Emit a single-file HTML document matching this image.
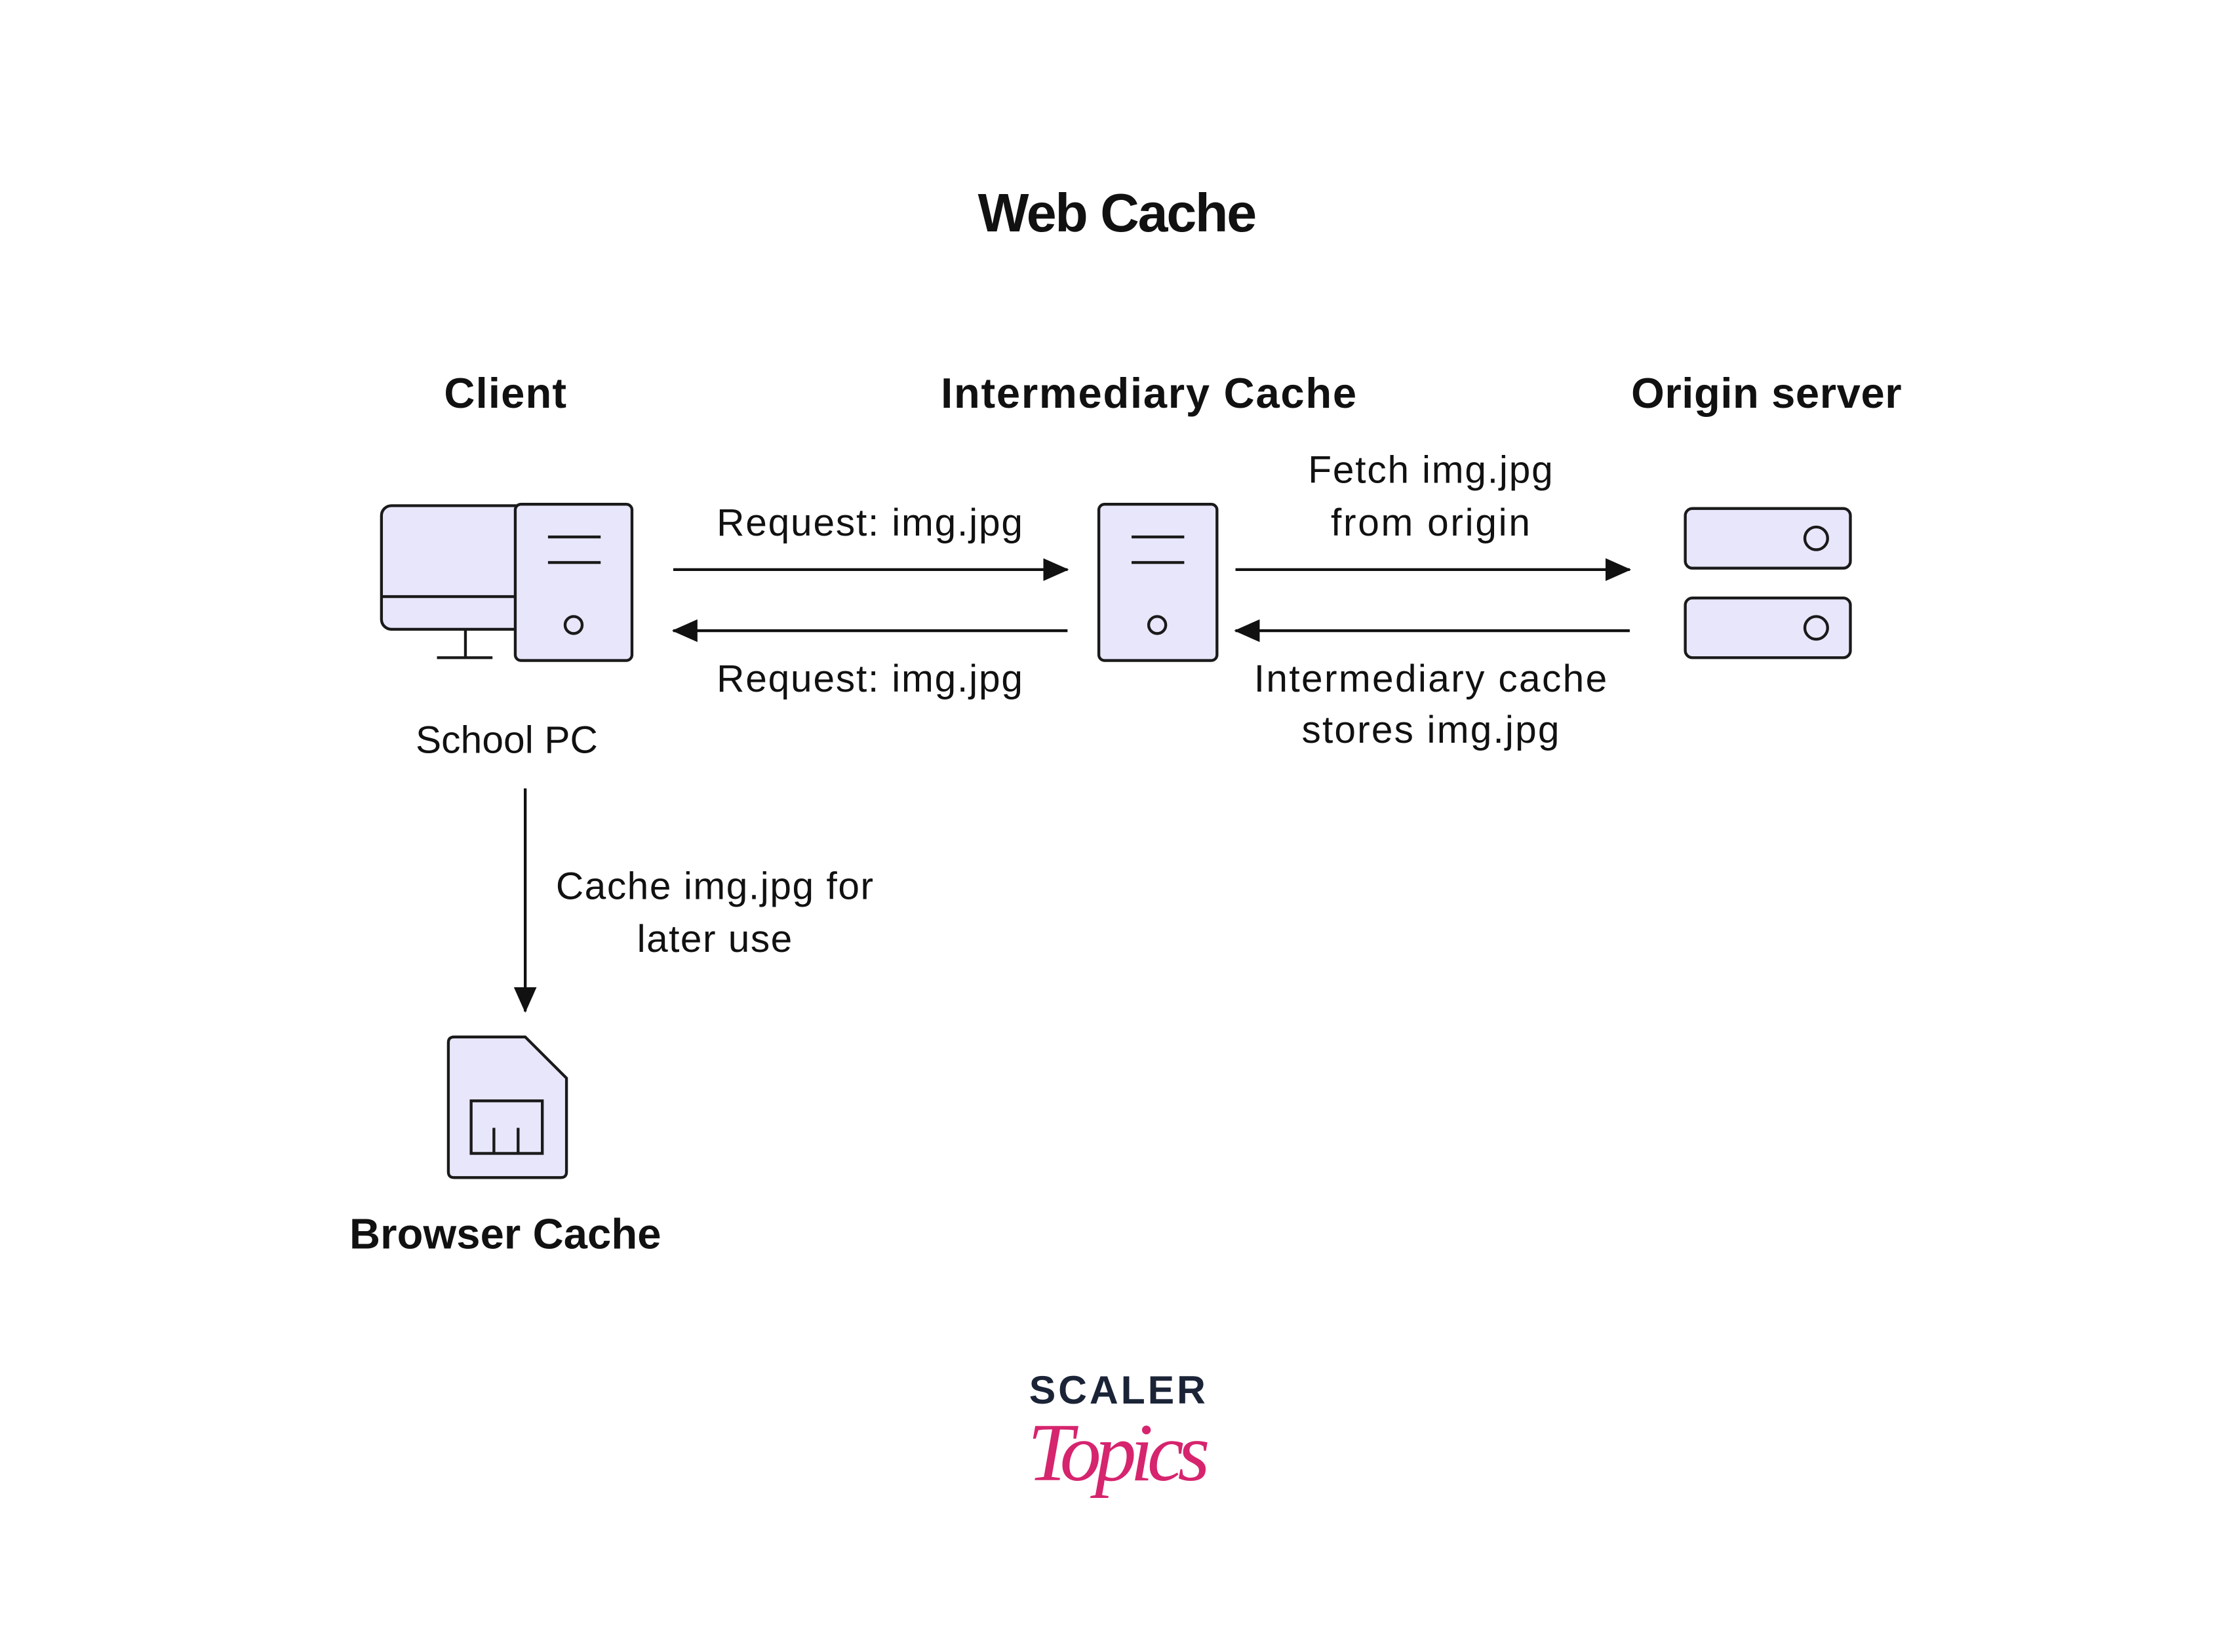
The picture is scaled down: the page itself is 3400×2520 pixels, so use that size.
<!DOCTYPE html>
<html><head><meta charset="utf-8"><style>
html,body{margin:0;padding:0;background:#fff;}
svg{display:block;}
text{font-family:"Liberation Sans",sans-serif;fill:#111;}
.b{font-weight:bold;}
</style></head><body>
<svg width="3400" height="2520" viewBox="0 0 1566 1163" preserveAspectRatio="none" xmlns="http://www.w3.org/2000/svg">
<defs>
<marker id="ah2" markerWidth="18" markerHeight="18" refX="17" refY="9" orient="auto" markerUnits="userSpaceOnUse" viewBox="0 0 18 18">
<path d="M0,1 L18,9 L0,17 z" fill="#111"/>
</marker>
</defs>
<text x="785" y="163" text-anchor="middle" class="b" font-size="38" textLength="196">Web Cache</text>
<text x="355" y="287" text-anchor="middle" class="b" font-size="30" textLength="86">Client</text>
<text x="807" y="287" text-anchor="middle" class="b" font-size="30" textLength="292">Intermediary Cache</text>
<text x="1241" y="287" text-anchor="middle" class="b" font-size="30" textLength="190">Origin server</text>

<g fill="#e8e6fb" stroke="#1a1a1a" stroke-width="2">
<rect x="268" y="356" width="110" height="87" rx="7"/>
<line x1="268" y1="420" x2="370" y2="420"/>
<line x1="327" y1="443" x2="327" y2="463"/>
<line x1="307" y1="463" x2="346" y2="463"/>
<rect x="362" y="355" width="82" height="110" rx="4"/>
<line x1="385" y1="378" x2="422" y2="378"/>
<line x1="385" y1="396" x2="422" y2="396"/>
<circle cx="403" cy="440" r="6"/>

<rect x="772" y="355" width="83" height="110" rx="4"/>
<line x1="795" y1="378" x2="832" y2="378"/>
<line x1="795" y1="396" x2="832" y2="396"/>
<circle cx="813" cy="440" r="6"/>

<rect x="1184" y="358" width="116" height="42" rx="5"/>
<circle cx="1276" cy="379" r="8"/>
<rect x="1184" y="421" width="116" height="42" rx="5"/>
<circle cx="1276" cy="442" r="8"/>

<path d="M319,730 L369,730 L398,759 L398,825 Q398,829 394,829 L319,829 Q315,829 315,825 L315,734 Q315,730 319,730 z"/>
<rect x="331" y="775" width="50" height="37"/>
<line x1="347" y1="794" x2="347" y2="812"/>
<line x1="364" y1="794" x2="364" y2="812"/>
</g>

<text x="356" y="530" text-anchor="middle" font-size="27" textLength="128">School PC</text>

<g stroke="#111" stroke-width="2">
<line x1="473" y1="401" x2="750" y2="401" marker-end="url(#ah2)"/>
<line x1="750" y1="444" x2="473" y2="444" marker-end="url(#ah2)"/>
<line x1="868" y1="401" x2="1145" y2="401" marker-end="url(#ah2)"/>
<line x1="1145" y1="444" x2="868" y2="444" marker-end="url(#ah2)"/>
<line x1="369" y1="555" x2="369" y2="712" marker-end="url(#ah2)"/>
</g>

<text x="611" y="377" text-anchor="middle" font-size="27" textLength="215">Request: img.jpg</text>
<text x="611" y="487" text-anchor="middle" font-size="27" textLength="215">Request: img.jpg</text>
<text x="1005" y="340" text-anchor="middle" font-size="27" textLength="172">Fetch img.jpg</text>
<text x="1005" y="377" text-anchor="middle" font-size="27" textLength="140">from origin</text>
<text x="1005" y="487" text-anchor="middle" font-size="27" textLength="248">Intermediary cache</text>
<text x="1005" y="523" text-anchor="middle" font-size="27" textLength="181">stores img.jpg</text>
<text x="502" y="633" text-anchor="middle" font-size="27" textLength="223">Cache img.jpg for</text>
<text x="502" y="670" text-anchor="middle" font-size="27" textLength="109">later use</text>

<text x="355" y="879" text-anchor="middle" class="b" font-size="30" textLength="219">Browser Cache</text>

<text x="785" y="988" text-anchor="middle" class="b" font-size="28" style="fill:#1b2437" textLength="124">SCALER</text>
<text x="786" y="1042" text-anchor="middle" font-size="58" font-style="italic" style="fill:#d6246e;font-family:'Liberation Serif',serif" textLength="128">Topics</text>
</svg>
</body></html>
